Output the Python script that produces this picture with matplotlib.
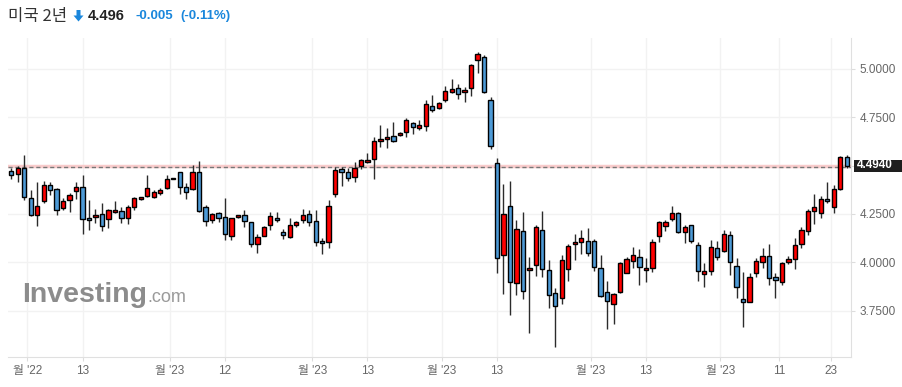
import matplotlib.pyplot as plt
import numpy as np
from matplotlib.patches import Polygon, Rectangle

plt.rcParams['font.family'] = ['Liberation Sans', 'Noto Sans CJK KR', 'DejaVu Sans']

# daily OHLC of US 2y yield
opens = [4.472, 4.455, 4.486, 4.331, 4.246, 4.317, 4.398, 4.377, 4.279, 4.324,
         4.367, 4.387, 4.229, 4.233, 4.248, 4.224, 4.260, 4.265, 4.227, 4.286,
         4.326, 4.341, 4.336, 4.357, 4.382, 4.431, 4.465, 4.389, 4.377, 4.465,
         4.284, 4.217, 4.253, 4.232, 4.138, 4.233, 4.243, 4.207, 4.093, 4.138,
         4.191, 4.229, 4.155, 4.129, 4.191, 4.220, 4.249, 4.211, 4.110, 4.103,
         4.354, 4.482, 4.465, 4.442, 4.499, 4.516, 4.532, 4.625, 4.635, 4.651,
         4.656, 4.671, 4.718, 4.696, 4.706, 4.808, 4.796, 4.840, 4.882, 4.899,
         4.878, 4.902, 5.044, 5.059, 4.837, 4.515, 4.036, 4.289, 3.891, 4.160,
         3.960, 3.984, 4.165, 3.958, 3.840, 3.814, 3.964, 4.093, 4.103, 4.108,
         4.108, 3.969, 3.845, 3.786, 3.845, 3.946, 4.005, 4.029, 3.960, 3.972,
         4.134, 4.189, 4.222, 4.253, 4.155, 4.191, 4.088, 3.938, 3.955, 4.072,
         4.057, 4.139, 3.979, 3.808, 3.793, 3.943, 4.003, 4.031, 3.924, 3.896,
         4.002, 4.015, 4.093, 4.162, 4.263, 4.253, 4.325, 4.284, 4.380, 4.542]
highs = [4.489, 4.498, 4.555, 4.372, 4.413, 4.422, 4.415, 4.382, 4.331, 4.357,
         4.413, 4.451, 4.320, 4.277, 4.305, 4.277, 4.317, 4.284, 4.295, 4.339,
         4.339, 4.451, 4.374, 4.386, 4.449, 4.432, 4.467, 4.408, 4.503, 4.524,
         4.295, 4.253, 4.262, 4.331, 4.229, 4.245, 4.269, 4.209, 4.145, 4.186,
         4.262, 4.260, 4.174, 4.227, 4.215, 4.274, 4.268, 4.268, 4.124, 4.322,
         4.494, 4.491, 4.485, 4.516, 4.535, 4.563, 4.646, 4.708, 4.692, 4.723,
         4.671, 4.744, 4.723, 4.735, 4.839, 4.863, 4.828, 4.909, 4.947, 4.920,
         4.904, 5.025, 5.089, 5.071, 4.856, 4.537, 4.405, 4.418, 4.217, 4.260,
         4.029, 4.191, 4.263, 4.012, 3.865, 4.036, 4.095, 4.148, 4.167, 4.176,
         4.122, 4.036, 3.902, 3.840, 4.000, 4.026, 4.081, 4.069, 4.020, 4.119,
         4.213, 4.220, 4.289, 4.262, 4.193, 4.194, 4.103, 3.998, 4.114, 4.112,
         4.165, 4.160, 4.020, 3.950, 3.946, 4.024, 4.072, 4.093, 3.946, 4.002,
         4.032, 4.124, 4.181, 4.274, 4.353, 4.343, 4.413, 4.398, 4.548, 4.556]
lows = [4.431, 4.413, 4.322, 4.239, 4.186, 4.305, 4.348, 4.244, 4.269, 4.258,
        4.325, 4.145, 4.167, 4.203, 4.162, 4.176, 4.253, 4.203, 4.196, 4.272,
        4.322, 4.339, 4.332, 4.348, 4.377, 4.430, 4.351, 4.325, 4.374, 4.260,
        4.189, 4.205, 4.210, 4.115, 4.115, 4.231, 4.183, 4.081, 4.050, 4.136,
        4.169, 4.208, 4.119, 4.126, 4.184, 4.201, 4.187, 4.086, 4.041, 4.075,
        4.339, 4.394, 4.418, 4.413, 4.480, 4.511, 4.429, 4.596, 4.589, 4.620,
        4.653, 4.649, 4.661, 4.684, 4.680, 4.778, 4.790, 4.828, 4.875, 4.842,
        4.827, 4.858, 4.976, 4.873, 4.584, 3.943, 3.834, 3.726, 3.829, 3.810,
        3.636, 3.929, 3.924, 3.764, 3.560, 3.784, 3.902, 4.012, 4.041, 4.033,
        3.957, 3.821, 3.653, 3.681, 3.840, 3.945, 3.972, 3.881, 3.896, 3.950,
        4.107, 4.163, 4.213, 4.153, 4.100, 4.101, 3.905, 3.874, 3.933, 4.012,
        4.051, 3.933, 3.815, 3.664, 3.793, 3.922, 3.972, 3.881, 3.814, 3.881,
        3.989, 3.967, 4.072, 4.139, 4.200, 4.227, 4.305, 4.253, 4.374, 4.486]
closes = [4.450, 4.488, 4.336, 4.243, 4.289, 4.398, 4.372, 4.270, 4.315, 4.346,
          4.387, 4.222, 4.219, 4.243, 4.186, 4.269, 4.270, 4.227, 4.284, 4.332,
          4.336, 4.386, 4.363, 4.374, 4.432, 4.431, 4.388, 4.363, 4.465, 4.263,
          4.213, 4.248, 4.227, 4.148, 4.227, 4.243, 4.212, 4.095, 4.129, 4.181,
          4.238, 4.219, 4.139, 4.191, 4.207, 4.244, 4.210, 4.106, 4.098, 4.291,
          4.475, 4.468, 4.434, 4.485, 4.527, 4.529, 4.625, 4.637, 4.647, 4.625,
          4.666, 4.734, 4.701, 4.708, 4.816, 4.789, 4.821, 4.883, 4.894, 4.868,
          4.889, 5.018, 5.075, 4.878, 4.599, 4.020, 4.248, 3.896, 4.174, 3.851,
          3.970, 4.181, 3.965, 3.829, 3.772, 4.010, 4.082, 4.103, 4.124, 4.046,
          3.974, 3.824, 3.798, 3.834, 3.995, 4.017, 4.036, 3.974, 3.970, 4.103,
          4.206, 4.208, 4.253, 4.157, 4.181, 4.110, 3.955, 3.953, 4.081, 4.027,
          4.145, 4.000, 3.870, 3.793, 3.922, 4.005, 4.031, 3.917, 3.908, 3.995,
          4.015, 4.088, 4.165, 4.263, 4.284, 4.325, 4.315, 4.380, 4.542, 4.496]

tick_pos = [2.5, 11, 24.5, 33, 46.5, 55, 66.5, 75, 89.5, 98, 109.5, 118.6, 126.6]
tick_labels = ["월 '22", '13', "월 '23", '12', "월 '23", '13', "월 '23", '13',
               "월 '23", '13', "월 '23", '11', '23']
y_ticks = [3.75, 4.0, 4.25, 4.5, 4.75, 5.0]
y_labels = ['3.7500', '4.0000', '4.2500', '', '4.7500', '5.0000']  # 4.5 sits under the price box
last_price = 4.494

W, H = 903, 387
fig = plt.figure(figsize=(W / 100, H / 100), dpi=100)
ax = fig.add_axes([8 / W, 30 / H, 843 / W, 319 / H])

x = np.arange(len(opens))
o = np.array(opens)
h = np.array(highs)
l = np.array(lows)
c = np.array(closes)
up = c >= o
colors = np.where(up, '#ff0000', '#4d9ad6')
bottom = np.minimum(o, c)
height = np.maximum(np.abs(c - o), 0.006)

ax.vlines(x, l, h, color='#2b2b2b', lw=1, zorder=2)
ax.bar(x, height, bottom=bottom, width=0.66, color=colors,
       edgecolor='black', linewidth=1.0, zorder=3)

# current price lines
ax.axhline(4.5, color='#f9cccc', lw=2.5, zorder=1.2)
ax.axhline(last_price, color='#777777', lw=1, ls=(0, (3, 2)), zorder=1.5)

ax.set_xlim(-0.51, 129.66)
ax.set_ylim(3.5106, 5.1592)
ax.set_xticks(tick_pos)
ax.set_xticklabels(tick_labels)
ax.set_yticks(y_ticks)
ax.set_yticklabels(y_labels)
ax.yaxis.tick_right()
ax.grid(True, color='#f2f2f2', lw=1, zorder=0)
ax.set_axisbelow(True)
ax.tick_params(axis='both', labelsize=8.5, labelcolor='#666666',
               color='#dddddd', length=3, pad=3)
for s in ['top', 'left']:
    ax.spines[s].set_visible(False)
for s in ['right', 'bottom']:
    ax.spines[s].set_color('#e0e0e0')

# watermark
fig.text(22 / W, 1 - 302 / H, 'Investing', fontsize=20.5, fontweight='bold',
         color='#8c8c8c', va='baseline', zorder=0)
fig.text(147 / W, 1 - 302 / H, '.com', fontsize=13, color='#9a9a9a',
         va='baseline', zorder=0)

# price box on the right axis
fig.patches.append(Rectangle((854 / W, 1 - 171.5 / H), 49 / W, 12 / H,
                             transform=fig.transFigure, fc='#1e1e1e', ec='none'))
fig.text(857 / W, 1 - 165.5 / H, '4.4940', fontsize=8.5, fontweight='bold',
         color='white', va='center')

# title line
ty = 1 - 16 / H
fig.text(8 / W, ty, '미국 2년', fontsize=12, color='#333333', va='center',
         family=['Noto Sans CJK KR', 'DejaVu Sans'])
arrow = [(76.5, 10), (80.5, 10), (80.5, 15.5), (83.5, 15.5), (78.5, 21.5),
         (73.5, 15.5), (76.5, 15.5)]
fig.patches.append(Polygon([(px / W, 1 - py / H) for px, py in arrow],
                           closed=True, transform=fig.transFigure,
                           fc='#1a87dc', ec='none'))
fig.text(88 / W, ty, '4.496', fontsize=10.5, fontweight='bold', color='#222222', va='center')
fig.text(136 / W, ty, '-0.005', fontsize=9.5, fontweight='bold', color='#1a87dc', va='center')
fig.text(180 / W, ty, '(-0.11%)', fontsize=9.5, fontweight='bold', color='#1a87dc', va='center')

plt.savefig('out.png', dpi=100)
